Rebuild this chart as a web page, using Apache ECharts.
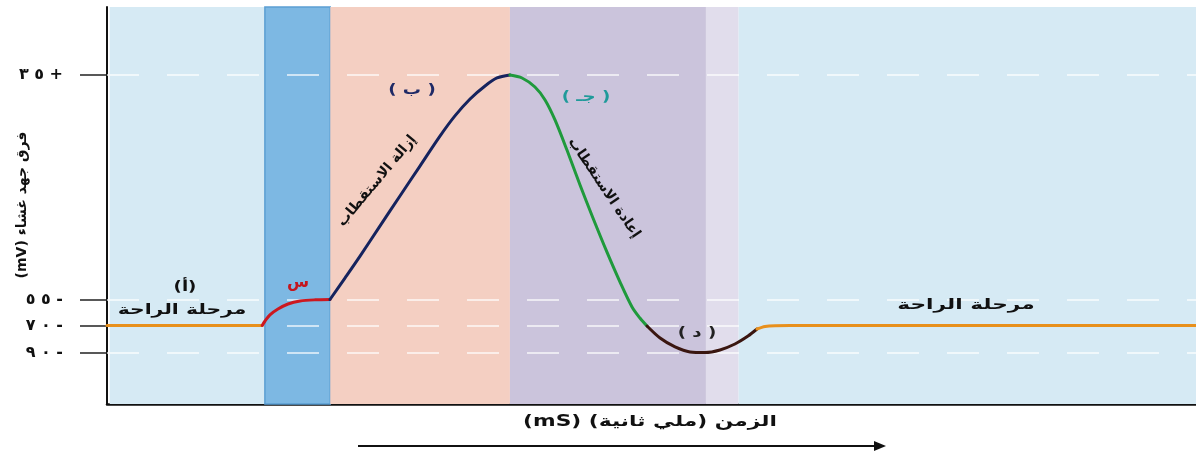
<!DOCTYPE html>
<html><head><meta charset="utf-8">
<script src="https://cdn.jsdelivr.net/npm/echarts@6/dist/echarts.min.js"></script>
<style>html,body{margin:0;padding:0;background:#fff}#c{width:1196px;height:453px}</style>
</head><body><div id="c"></div>
<script>
// ---- data (time in ms, membrane potential in mV) ----
const tickMv = [-90, -70, -55, 35];
const tickLabels = ['٩\u200E \u200E٠\u200E \u200E-', '٧\u200E \u200E٠\u200E \u200E-', '٥\u200E \u200E٥\u200E \u200E-', '٣\u200E \u200E٥\u200E \u200E+'];
const restAT = [0, 1.14];           const restAV = [-70, -70];
const stimT = [1.14, 1.161, 1.197, 1.256, 1.33, 1.418, 1.528, 1.638];
const stimV = [-70, -67.4, -63.9, -60.5, -57.6, -55.9, -55.2, -55];
const depolT = [1.638, 1.748, 1.859, 2.006, 2.152, 2.299, 2.446, 2.556, 2.667, 2.777, 2.865, 2.96];
const depolV = [-55, -46.4, -37.6, -25.5, -13.5, -1.5, 10.5, 18.6, 25.4, 30.6, 33.8, 35];
const repolT = [2.96, 3.049, 3.144, 3.218, 3.291, 3.379, 3.475, 3.57, 3.673, 3.769, 3.857, 3.915, 3.967];
const repolV = [35, 33.8, 30.2, 25, 17, 4.9, -9.1, -22.3, -36, -48, -59.3, -65.7, -70.4];
const hyperT = [3.967, 4.063, 4.173, 4.283, 4.393, 4.503, 4.613, 4.709, 4.775];
const hyperV = [-70.4, -79.3, -85.9, -89.6, -90, -88.1, -83.7, -77.8, -72.6];
const restBT = [4.775, 4.834, 4.907, 5.017, 8];  const restBV = [-72.6, -70.7, -70.1, -70, -70];
const phaseStart = [0.02, 1.16, 1.64, 2.96, 4.40, 4.64];
const phaseEnd   = [1.16, 1.64, 2.96, 4.40, 4.64, 8];

// ---- schematic (non-linear) vertical scale: axis levels of each tick ----
const tickLevel = [51.5, 78.5, 104.5, 329];
const phaseColors = ['#d6eaf4', '#7db8e3', '#f4cfc2', '#cbc4dc', '#e1ddec', '#d6eaf4'];

function toLevel(mv) {
  let i = 0;
  if (mv <= tickMv[0]) i = 0;
  else if (mv >= tickMv[tickMv.length - 1]) i = tickMv.length - 2;
  else { while (!(mv >= tickMv[i] && mv <= tickMv[i + 1])) i++; }
  const f = (mv - tickMv[i]) / (tickMv[i + 1] - tickMv[i]);
  return tickLevel[i] + f * (tickLevel[i + 1] - tickLevel[i]);
}
const pts = (T, V) => T.map((t, i) => [t, toLevel(V[i])]);

const FONT = 'DejaVu Sans';
function lineSeries(T, V, color) {
  return {
    type: 'line', data: pts(T, V), showSymbol: false, smooth: 0.3,
    lineStyle: { color: color, width: 3, cap: 'round', join: 'round' },
    z: 5, silent: true
  };
}
function txt(x, y, text, size, color, extra) {
  return Object.assign({
    type: 'text', x: x, y: y, z: 100,
    style: { text: text, font: 'bold ' + size + 'px ' + FONT, fill: color, align: 'center', verticalAlign: 'middle' }
  }, extra || {});
}

const chart = echarts.init(document.getElementById('c'), null, { renderer: 'canvas' });
const option = {
  animation: false,
  grid: { left: 107, right: 0, top: 7, bottom: 49 },
  xAxis: {
    type: 'value', min: 0, max: 8,
    axisLine: { show: true, onZero: false, lineStyle: { color: '#111', width: 2.5 } },
    axisTick: { show: false }, axisLabel: { show: false }, splitLine: { show: false }
  },
  yAxis: {
    type: 'value', min: 0, max: 397,
    axisLine: { show: true, lineStyle: { color: '#111', width: 2 } },
    axisTick: { show: true, length: 27, customValues: tickLevel, lineStyle: { color: '#222', width: 1.5 } },
    axisLabel: {
      customValues: tickLevel, margin: 44, color: '#111', fontSize: 16, fontWeight: 'bold', fontFamily: FONT,
      formatter: v => { const k = tickLevel.findIndex(l => Math.abs(l - v) < 0.01); return k >= 0 ? tickLabels[k] : ''; }
    },
    splitLine: { show: false }
  },
  series: [
    {
      type: 'line', data: [], silent: true,
      markArea: {
        silent: true,
        data: phaseStart.map((s, i) => [
          { xAxis: s, itemStyle: { color: phaseColors[i], borderColor: i === 1 ? '#5b9fd3' : 'transparent', borderWidth: i === 1 ? 1.5 : 0 } },
          { xAxis: phaseEnd[i] }
        ])
      },
      markLine: {
        silent: true, symbol: 'none', label: { show: false },
        lineStyle: { color: '#ffffff', type: [32, 28], width: 1.5, opacity: 0.85 },
        data: tickMv.map(m => ({ yAxis: toLevel(m) }))
      }
    },
    lineSeries(restAT, restAV, '#e8901c'),
    lineSeries(stimT, stimV, '#cc1820'),
    lineSeries(depolT, depolV, '#15235e'),
    lineSeries(repolT, repolV, '#1f9a3c'),
    lineSeries(hyperT, hyperV, '#3a1610'),
    lineSeries(restBT, restBV, '#e8901c')
  ],
  graphic: [
    txt(22, 205, '(mV) فرق جهد غشاء', 14, '#111', { rotation: Math.PI / 2 }),
    txt(185, 287, '(أ)', 14, '#111', { scaleX: 1.3 }),
    txt(182, 310, 'مرحلة الراحة', 14, '#111', { scaleX: 1.45 }),
    txt(298, 283, 'س', 16, '#c4161e'),
    txt(412, 90, '( ب )', 14, '#1f2a66', { scaleX: 1.3 }),
    txt(586, 97, '( جـ )', 14, '#1f9a9a', { scaleX: 1.3 }),
    txt(697, 333, '( د )', 14, '#222', { scaleX: 1.3 }),
    txt(966, 305, 'مرحلة الراحة', 14, '#111', { scaleX: 1.55 }),
    txt(377, 181, 'إزالة الاستقطاب', 14, '#111', { rotation: 50 * Math.PI / 180 }),
    txt(604, 188, 'إعادة الاستقطاب', 14, '#111', { rotation: -56 * Math.PI / 180 }),
    txt(650, 422, '(mS) الزمن (ملي ثانية)\u200F', 15, '#111', { scaleX: 1.45 }),
    { type: 'line', z: 100, shape: { x1: 358, y1: 446, x2: 876, y2: 446 }, style: { stroke: '#111', lineWidth: 2 } },
    { type: 'polygon', z: 100, shape: { points: [[874, 441], [886, 446], [874, 451]] }, style: { fill: '#111' } }
  ]
};
chart.setOption(option);
</script></body></html>
